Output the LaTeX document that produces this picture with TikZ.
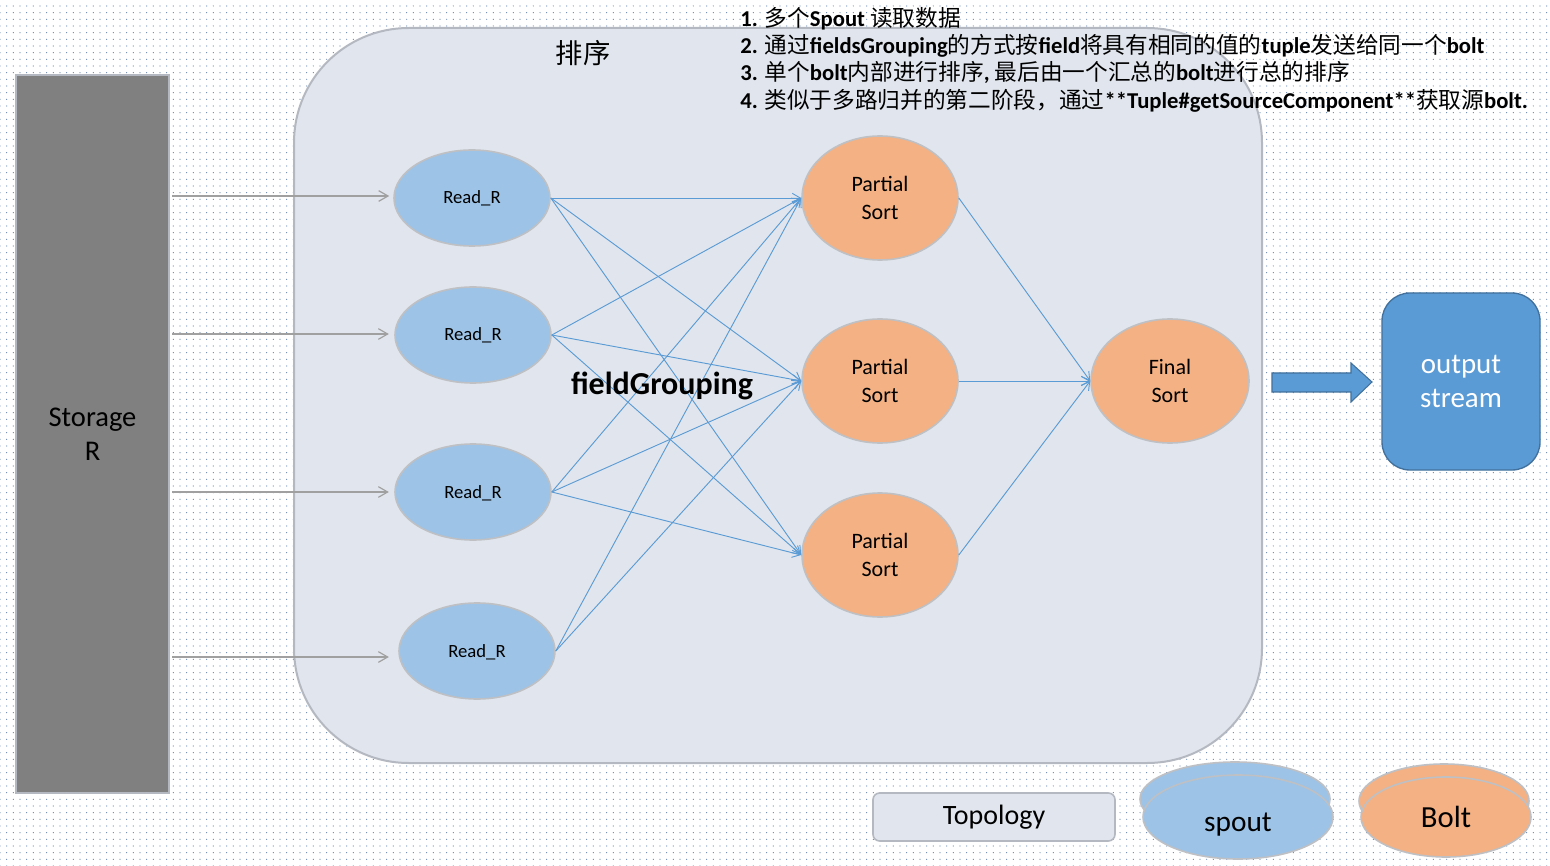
\documentclass[tikz,border=0pt]{standalone}
\usepackage{fontspec}
\setmainfont{Carlito}
\newfontfamily\cjk{Noto Sans CJK SC}
\usetikzlibrary{shapes.geometric,arrows.meta,patterns.meta}
\definecolor{topofill}{RGB}{225,230,238}
\definecolor{topoline}{RGB}{180,184,192}
\definecolor{readfill}{RGB}{157,195,230}
\definecolor{sortfill}{RGB}{244,177,131}
\definecolor{nodeline}{RGB}{190,192,196}
\definecolor{eblue}{RGB}{91,155,213}
\definecolor{dblue}{RGB}{65,113,156}
\definecolor{stfill}{RGB}{128,128,128}
\definecolor{garrow}{RGB}{160,160,160}
\definecolor{dotc}{RGB}{105,135,175}
\tikzset{
  readnode/.style={ellipse,fill=readfill,draw=nodeline,line width=1.2pt,inner sep=0pt,
    minimum width=117pt,minimum height=72pt,text height=12pt,text depth=3pt,font=\fontsize{14}{17}\selectfont},
  sortnode/.style={ellipse,fill=sortfill,draw=nodeline,line width=1.2pt,inner sep=0pt,align=center,
    minimum width=117pt,minimum height=93pt,font=\fontsize{16.5}{20.5}\selectfont},
  flow/.style={draw=eblue,line width=0.7pt,-{Straight Barb[length=6pt,width=7pt]}},
  feed/.style={draw=garrow,line width=0.9pt,-{Straight Barb[length=7pt,width=8pt]}},
  topline/.style={anchor=west,inner sep=0pt,font=\fontsize{17}{20}\selectfont\bfseries},
}
\begin{document}
\begin{tikzpicture}[x=0.75pt,y=-0.75pt]
\path[use as bounding box,fill=white] (0,0) rectangle (1550,866);
\fill[pattern={Dots[distance=5pt,radius=0.45pt]},pattern color=dotc] (0,0) rectangle (1550,866);

% topology frame
\draw[fill=topofill,draw=topoline,line width=1.5pt,rounded corners=86pt] (294,28) rectangle (1262,763);
\node[font=\fontsize{20.5}{24}\selectfont\cjk] (title) at (583,53) {排序};

% storage
\node[rectangle,fill=stfill,draw=topoline,line width=1pt,minimum width=114.75pt,minimum height=538.5pt,
  align=center,font=\fontsize{21.4}{25.5}\selectfont] (st) at (92.5,434) {Storage\\R};

% read nodes
\node[readnode] (r1) at (472,198) {Read\_R};
\node[readnode] (r2) at (473,335) {Read\_R};
\node[readnode] (r3) at (473,492) {Read\_R};
\node[readnode] (r4) at (477,651) {Read\_R};

% sort nodes
\node[sortnode] (p1) at (880,198) {Partial\\Sort};
\node[sortnode] (p2) at (880,381) {Partial\\Sort};
\node[sortnode] (p3) at (880,555) {Partial\\Sort};
\node[sortnode,minimum width=118.5pt] (fs) at (1170,381) {Final\\Sort};

% storage feeds
\draw[feed] ([xshift=2pt,yshift=1.5pt]st.east |- r1) -- ([xshift=-3pt,yshift=1.5pt]r1.west);
\draw[feed] ([xshift=2pt,yshift=0.75pt]st.east |- r2) -- ([xshift=-4pt,yshift=0.75pt]r2.west);
\draw[feed] ([xshift=2pt]st.east |- r3) -- ([xshift=-4pt]r3.west);
\draw[feed] ([xshift=2pt,yshift=-4.5pt]st.east |- r4) -- ([xshift=-7pt,yshift=-4.5pt]r4.west);

% field grouping edges
\foreach \s in {r1,r2,r3}{
  \foreach \t in {p1,p2,p3}{
    \draw[flow] (\s.east) -- (\t.west);
  }
}
\draw[flow] (r4.east) -- (p1.west);
\draw[flow] (r4.east) -- (p2.west);

\node[font=\fontsize{24}{28}\selectfont\bfseries] (fg) at (662,386) {fieldGrouping};

% to final
\draw[flow] (p1.east) -- (fs.west);
\draw[flow] (p2.east) -- (fs.west);
\draw[flow] (p3.east) -- (fs.west);

% block arrow
\draw[fill=eblue,draw=dblue,line width=0.8pt]
  (1272,373) -- (1351,373) -- (1351,363) -- (1372,382) -- (1351,402) -- (1351,392) -- (1272,392) -- cycle;

% output stream
\node[rectangle,rounded corners=21pt,fill=eblue,draw=dblue,line width=1pt,text=white,align=center,
  minimum width=118.5pt,minimum height=132.75pt,font=\fontsize{21.7}{26}\selectfont] (out) at (1461,381.5) {output\\stream};

% top notes
\node[topline] (t1) at (740,18.5) {1. {\cjk\mdseries 多个}Spout {\cjk\mdseries 读取数据}};
\node[topline] (t2) at (740,45.5) {2. {\cjk\mdseries 通过}fieldsGrouping{\cjk\mdseries 的方式按}field{\cjk\mdseries 将具有相同的值的}tuple{\cjk\mdseries 发送给同一个}bolt};
\node[topline] (t3) at (740,72.5) {3. {\cjk\mdseries 单个}bolt{\cjk\mdseries 内部进行排序}, {\cjk\mdseries 最后由一个汇总的}bolt{\cjk\mdseries 进行总的排序}};
\node[topline] (t4) at (740,100.5) {4. {\cjk\mdseries 类似于多路归并的第二阶段，通过}**Tuple\#getSourceComponent**{\cjk\mdseries 获取源}bolt.};

% legend
\node[rectangle,rounded corners=5pt,fill=topofill,draw=topoline,line width=1.2pt,minimum width=181.5pt,minimum height=36pt,
  font=\fontsize{21}{25}\selectfont] (lt) at (994,817) {Topology};
\node[ellipse,fill=readfill,draw=nodeline,line width=1.2pt,minimum width=142.5pt,minimum height=55.5pt] (ls1) at (1235,799) {};
\node[ellipse,fill=readfill,draw=nodeline,line width=1.2pt,minimum width=142.5pt,minimum height=63pt,
  text height=27pt,text depth=5pt,font=\fontsize{22}{26}\selectfont] (ls2) at (1238,817) {spout};
\node[ellipse,fill=sortfill,draw=nodeline,line width=1.2pt,minimum width=127.5pt,minimum height=55.5pt] (lb1) at (1444,801) {};
\node[ellipse,fill=sortfill,draw=nodeline,line width=1.2pt,minimum width=127.5pt,minimum height=60pt,
  font=\fontsize{23}{27}\selectfont] (lb2) at (1446,817) {Bolt};
\end{tikzpicture}
\end{document}
